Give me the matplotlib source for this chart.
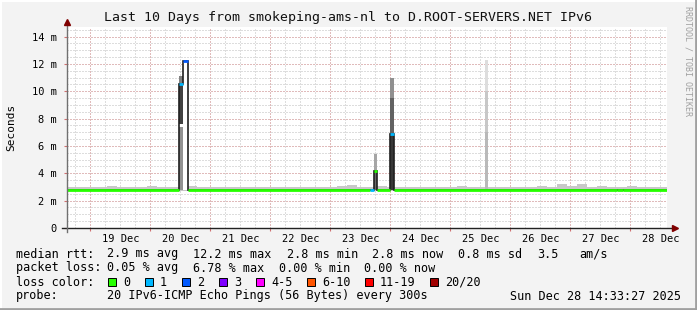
import datetime as dt
import numpy as np
import matplotlib
matplotlib.use("Agg")
import matplotlib.pyplot as plt
from matplotlib.patches import Rectangle

# ---- data (hours since start of window, values in ms) ----
start = dt.datetime(2025, 12, 18, 14, 33, 27)
span_h = 240.0
day_labels = ["19 Dec", "20 Dec", "21 Dec", "22 Dec", "23 Dec",
              "24 Dec", "25 Dec", "26 Dec", "27 Dec", "28 Dec"]
y_ticks = [0, 2, 4, 6, 8, 10, 12, 14]

# median rtt, step series (edges in hours), loss per step (pings lost of 20)
med_edges = [0, 45.0, 46.6, 48.4, 121.3, 122.9, 124.3, 129.3, 130.9, 220.0, 222.5, 240]
med_vals = [2.8, 10.55, 12.2, 2.8, 2.8, 4.2, 2.8, 6.86, 2.8, 2.77, 2.8]
med_loss = [0, 1, 2, 0, 1, 0, 0, 1, 0, 0, 0]

# background smoke, 4 h buckets
smoke_hi = [3.02, 3.0, 3.03, 3.0, 3.1, 3.02, 3.0, 3.0, 3.05, 3.0,
            3.02, 3.0, 3.08, 3.0, 3.0, 3.02, 3.0, 3.0, 3.0, 3.02,
            3.0, 3.0, 3.03, 3.0, 3.0, 3.02, 3.0, 3.05, 3.12, 3.0,
            3.0, 3.04, 3.0, 3.0, 3.02, 3.0, 3.0, 3.0, 3.02, 3.08,
            3.0, 3.0, 3.03, 3.0, 3.02, 3.0, 3.0, 3.05, 3.0, 3.2,
            3.05, 3.2, 3.02, 3.1, 3.0, 3.0, 3.05, 3.0, 3.02, 3.0]
smoke_lo = 2.74

# smoke bands around the spikes: start, end, low, high, ping density (0..1)
band_t0 = [45.0, 45.0, 45.0, 45.0, 46.6, 122.9, 122.9, 129.3, 129.3, 129.3, 167.3, 167.3, 167.3]
band_t1 = [46.6, 46.6, 46.6, 46.6, 48.4, 124.3, 124.3, 130.9, 130.9, 130.9, 168.5, 168.5, 168.5]
band_lo = [10.55, 7.6, 7.4, 2.8, 2.8, 4.2, 2.8, 9.5, 6.86, 2.8, 10.0, 7.0, 2.8]
band_hi = [11.1, 10.55, 7.6, 7.4, 12.2, 5.4, 4.2, 11.0, 9.5, 6.86, 12.26, 10.0, 7.0]
band_dens = [0.52, 0.78, 0.0, 0.45, 0.0, 0.37, 0.62, 0.46, 0.65, 0.82, 0.14, 0.23, 0.29]

loss_names = ["0", "1", "2", "3", "4-5", "6-10", "11-19", "20/20"]
loss_colors = ["#26ff00", "#00b8ff", "#0059ff", "#7e00ff",
               "#ff00ff", "#ff5500", "#ff0000", "#a10000"]

W, H = 697, 310
fig = plt.figure(figsize=(W / 100, H / 100), dpi=100, facecolor="#f3f3f3")
mono = "DejaVu Sans Mono"
plt.rcParams["font.family"] = mono

def px(x, y):
    return x / W, 1 - y / H

ax = fig.add_axes([66.7 / W, (H - 228) / H, 600 / W, (228 - 27) / H])
ax.set_facecolor("white")
ax.set_xlim(0, span_h)
ax.set_ylim(0, 14.7)
for s in ax.spines.values():
    s.set_visible(False)

# grid
midnights = [(dt.datetime(2025, 12, d) - start).total_seconds() / 3600 for d in range(19, 29)]
noons = [m + 12 for m in midnights]
six_h = np.arange(midnights[0] - 6, span_h, 6.0)
six_h = six_h[six_h > 0]
dot = (0, (1, 2))
for t in six_h:
    ax.axvline(t, color="#bdbdbd", lw=0.72, ls=dot, zorder=0)
for v in np.arange(0.5, 14.7, 0.5):
    ax.axhline(v, color="#bdbdbd", lw=0.72, ls=dot, zorder=0)
for t in midnights:
    ax.axvline(t, color="#e39a9a", lw=0.72, ls=dot, zorder=0.5)
for v in y_ticks[1:]:
    ax.axhline(v, color="#e39a9a", lw=0.72, ls=dot, zorder=0.5)

# background smoke
sm_t = np.arange(0, span_h + 4, 4.0)
ax.fill_between(sm_t, smoke_lo, smoke_hi + [smoke_hi[-1]], step="post",
                color="#c8c8c8", lw=0, zorder=1)

# spike smoke bands
for t0, t1, lo, hi, d in zip(band_t0, band_t1, band_lo, band_hi, band_dens):
    g = 1 - d * 0.95
    ax.bar(t0, hi - lo, width=t1 - t0, bottom=lo, align="edge",
           color=(g, g, g), lw=0, zorder=2)

# median line: dark steps, coloured by loss
ax.stairs(med_vals, med_edges, baseline=None, color="#202020", lw=1.2, zorder=3)
ax.hlines(med_vals, med_edges[:-1], med_edges[1:],
          colors=[loss_colors[i] for i in med_loss], lw=2.0, zorder=4)

# ticks
ax.set_yticks(y_ticks)
ax.set_yticklabels(["0"] + [f"{v} m" for v in y_ticks[1:]])
ax.tick_params(axis="y", length=2, width=0.8, color="#d07070", pad=5, labelsize=7.5)
ax.set_xticks(midnights)
ax.set_xticklabels([])
ax.tick_params(axis="x", length=2, width=0.8, color="#d07070", pad=3)
ax.set_xticks(noons, labels=day_labels, minor=True)
ax.tick_params(axis="x", which="minor", length=0, pad=4, labelsize=7.5)

# axes with arrows
ax.plot([-0.008, 1.012], [0, 0], transform=ax.transAxes, color="#222222",
        lw=1.0, clip_on=False, zorder=5)
ax.plot([1.014], [0], transform=ax.transAxes, marker=">", ms=4.5,
        color="#800000", clip_on=False, zorder=6)
ax.plot([0, 0], [-0.02, 1.02], transform=ax.transAxes, color="#707070",
        lw=1.0, clip_on=False, zorder=5)
ax.plot([0], [1.025], transform=ax.transAxes, marker="^", ms=4.5,
        color="#800000", clip_on=False, zorder=6)

# texts
fig.text(*px(348, 18), "Last 10 Days from smokeping-ams-nl to D.ROOT-SERVERS.NET IPv6",
         ha="center", va="center", fontsize=9.5, color="#111111")
fig.text(*px(11, 127), "Seconds", rotation=90, ha="center", va="center", fontsize=8)
fig.text(*px(688, 6), "RRDTOOL / TOBI OETIKER", rotation=270, ha="center", va="top",
         fontsize=6, color="#a0a0a0")

fs = 8.5
row1 = [(16, "median rtt:"), (107, "2.9 ms avg"), (193, "12.2 ms max"),
        (287, "2.8 ms min"), (372, "2.8 ms now"), (458, "0.8 ms sd"),
        (537, "3.5"), (579, "am/s")]
row2 = [(16, "packet loss:"), (107, "0.05 % avg"), (193, "6.78 % max"),
        (279, "0.00 % min"), (364, "0.00 % now")]
for x, s in row1:
    fig.text(*px(x, 254), s, ha="left", va="center", fontsize=fs)
for x, s in row2:
    fig.text(*px(x, 268), s, ha="left", va="center", fontsize=fs)

fig.text(*px(16, 282), "loss color:", ha="left", va="center", fontsize=fs)
box_x = [108, 145, 182, 219, 256, 307, 365, 430]
for bx, name, col in zip(box_x, loss_names, loss_colors):
    fig.patches.append(Rectangle(px(bx, 286), 8 / W, 8 / H, transform=fig.transFigure,
                                 facecolor=col, edgecolor="black", lw=0.7))
    fig.text(*px(bx + 15, 282), name, ha="left", va="center", fontsize=fs)

fig.text(*px(16, 296), "probe:", ha="left", va="center", fontsize=fs)
fig.text(*px(107, 296), "20 IPv6-ICMP Echo Pings (56 Bytes) every 300s",
         ha="left", va="center", fontsize=fs)
fig.text(*px(681, 296), "Sun Dec 28 14:33:27 2025", ha="right", va="center", fontsize=fs)

# frame shading
fig.add_artist(plt.Line2D([0, 1], [1 - 1 / H, 1 - 1 / H], transform=fig.transFigure,
                          color="white", lw=1.5))
fig.add_artist(plt.Line2D([1 / W, 1 / W], [0, 1], transform=fig.transFigure,
                          color="white", lw=1.5))
fig.add_artist(plt.Line2D([0, 1], [1.5 / H, 1.5 / H], transform=fig.transFigure,
                          color="#a0a0a0", lw=2))
fig.add_artist(plt.Line2D([1 - 1.5 / W, 1 - 1.5 / W], [0, 1], transform=fig.transFigure,
                          color="#a0a0a0", lw=2))

fig.savefig("out.png", dpi=100, facecolor=fig.get_facecolor())
